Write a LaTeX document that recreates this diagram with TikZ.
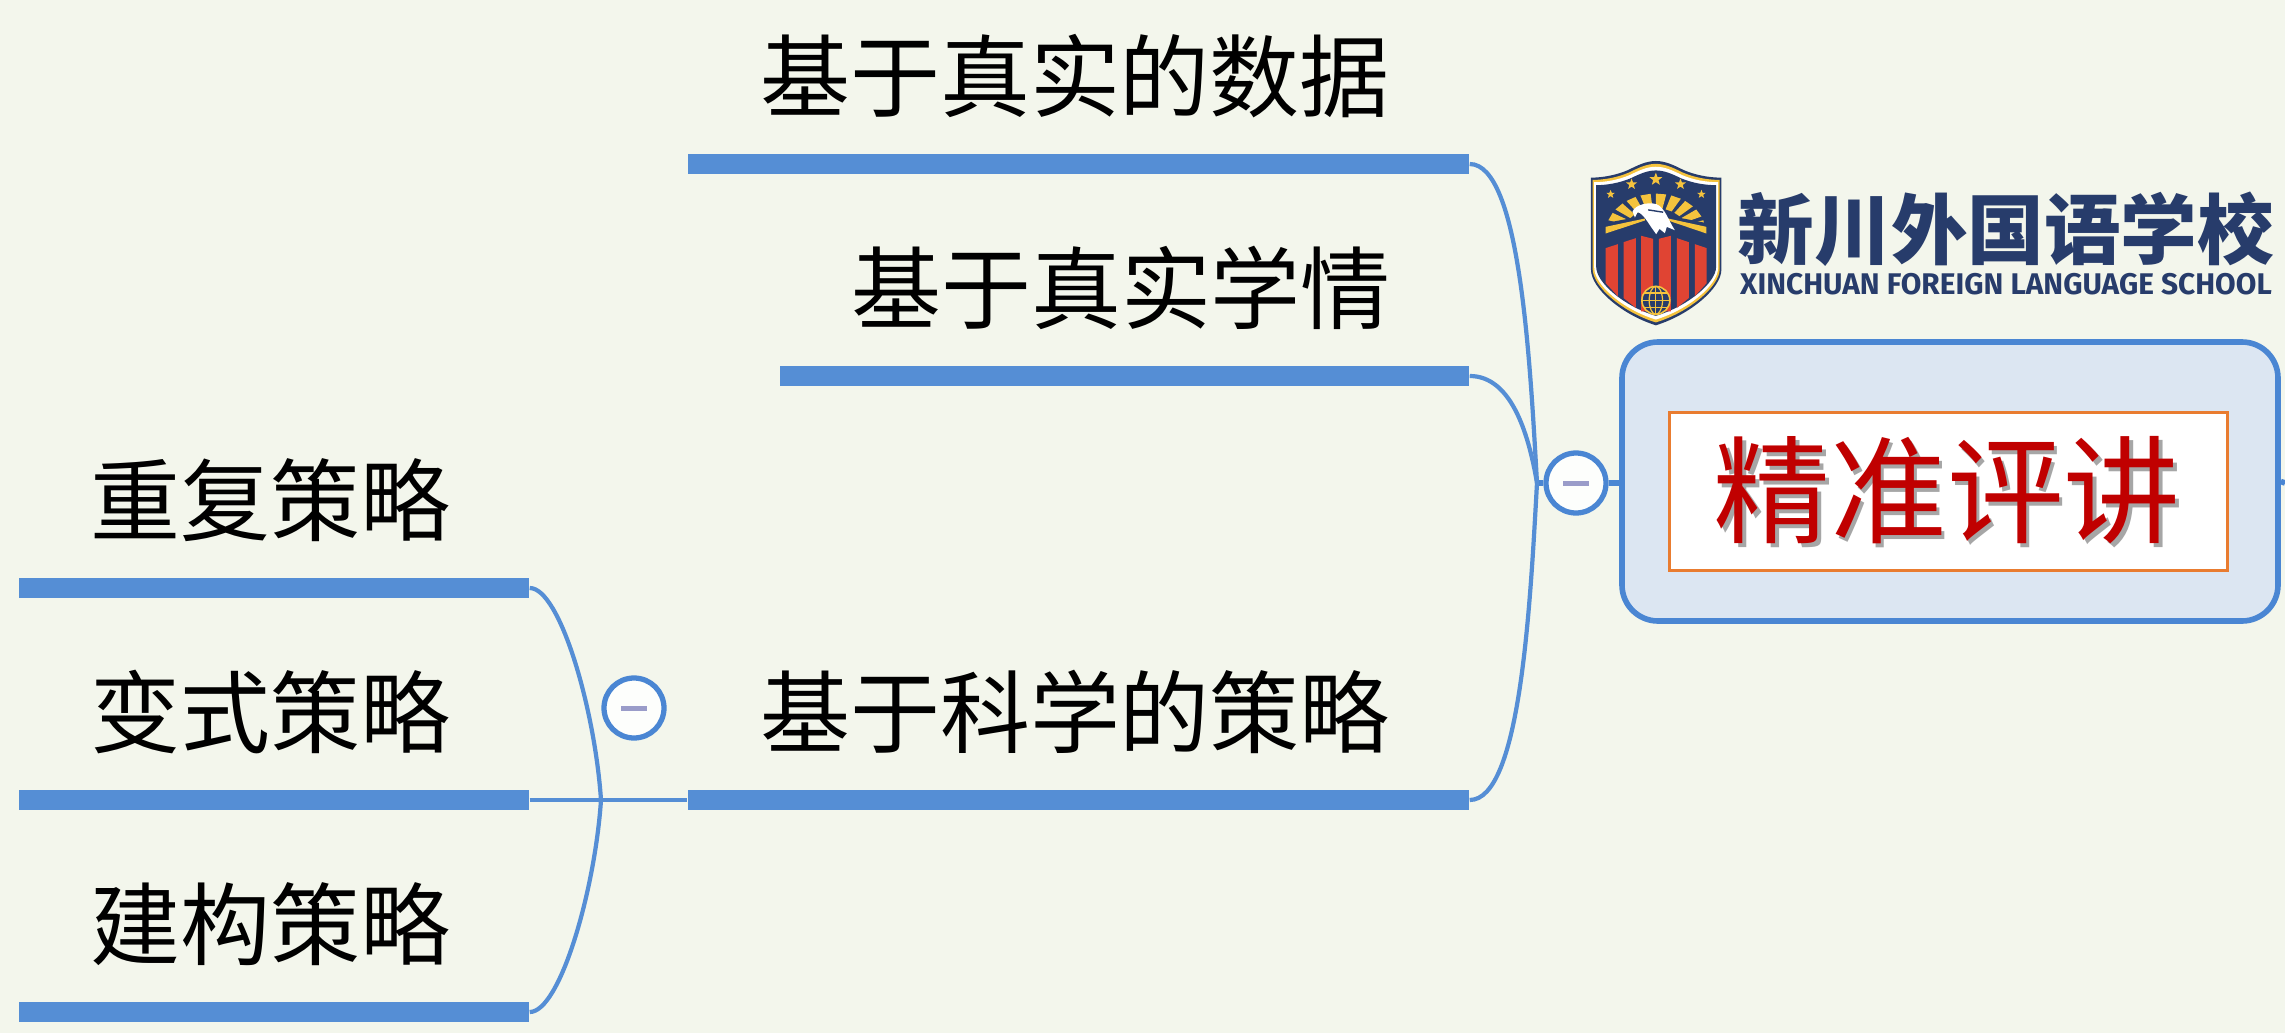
\documentclass[tikz,border=0pt]{standalone}
\usepackage{fontspec}
\usepackage{tikz}
\usetikzlibrary{positioning,shapes.geometric}
\newfontfamily\cjk{Noto Sans CJK SC}
\newfontfamily\latinlogo{Fira Sans}
\definecolor{paper}{HTML}{F3F6EC}
\definecolor{branch}{HTML}{558ED5}
\definecolor{rootline}{HTML}{4A86D3}
\definecolor{rootfill}{HTML}{DCE6F2}
\definecolor{minusline}{HTML}{9A9CC9}
\definecolor{navy}{HTML}{273C6B}
\definecolor{crestgold}{HTML}{F5C33D}
\definecolor{crestred}{HTML}{E04433}
\definecolor{framecol}{HTML}{E97C30}
\definecolor{titlered}{HTML}{C00000}
\def\crestpath{(213,18) .. controls (185,18) and (160,30) .. (130,45) .. controls (95,60) and (55,68) .. (18,68) -- (18,345) .. controls (18,400) and (110,480) .. (213,512) .. controls (316,480) and (410,400) .. (410,345) -- (410,68) .. controls (371,68) and (331,60) .. (296,45) .. controls (266,30) and (241,18) .. (213,18) -- cycle}
\begin{document}
\begin{tikzpicture}[auto,node distance=1.0cm]
	\tikzstyle{bar}=[fill=branch,minimum height=0.2cm,inner sep=0pt]
	\tikzstyle{leaf}=[font=\cjk\fontsize{25.6}{30}\selectfont,inner sep=0pt,xshift=-0.035cm]
	\tikzstyle{link}=[draw=branch,line width=1.2pt]
	\tikzstyle{fold}=[circle,draw=rootline,fill=white!85!paper,line width=1.5pt,minimum size=0.6cm,inner sep=0pt]
	\tikzstyle{minus}=[fill=minusline,minimum width=0.26cm,minimum height=0.05cm,inner sep=0pt]
	\useasboundingbox (0,0) rectangle (22.85,-10.33);
	\fill[paper] (0,0) rectangle (22.85,-10.33);
		% right part
		\node[bar, minimum width=7.81cm] (data) at (10.785,-1.64) {};
		\node[leaf, above=0.35cm of data] (datat) {基于真实的数据};
		\node[bar, minimum width=6.89cm] (study) at (11.245,-3.76) {};
		\node[leaf, above=0.35cm of study] (studyt) {基于真实学情};
		\node[bar, minimum width=7.81cm] (science) at (10.785,-8.00) {};
		\node[leaf, above=0.35cm of science] (sciencet) {基于科学的策略};
		% left part
		\node[bar, minimum width=5.10cm] (again) at (2.74,-5.88) {};
		\node[leaf, above=0.35cm of again] (againt) {重复策略};
		\node[bar, minimum width=5.10cm] (vary) at (2.74,-8.00) {};
		\node[leaf, above=0.35cm of vary] (varyt) {变式策略};
		\node[bar, minimum width=5.10cm] (build) at (2.74,-10.12) {};
		\node[leaf, above=0.35cm of build] (buildt) {建构策略};
		% root
		\node[draw=rootline, fill=rootfill, line width=1.6pt, rounded corners=0.36cm, minimum width=6.56cm, minimum height=2.79cm, inner sep=0pt] (root) at (19.50,-4.815) {};
		\node[draw=framecol, fill=white, line width=0.9pt, minimum width=5.58cm, minimum height=1.58cm, inner sep=0pt] (title) at (19.485,-4.915) {};
		\node[font=\cjk\fontsize{33.2}{36}\selectfont, text=titlered, inner sep=0pt] (titlet) at (19.47,-4.92) {\rlap{\kern1pt\raisebox{-1pt}{\textcolor{black!35}{精准评讲}}}精准评讲};
		\coordinate (rootend) at (22.85,-4.83);
			\draw[draw=rootline, line width=1.6pt] (root.east) -- (rootend);
		% fold marks
		\coordinate (hubr) at (15.37,-4.83);
		\coordinate (hubl) at (6.01,-8.00);
		\node[fold] (foldr) at (15.76,-4.83) {};
		\node[minus] (minusr) at (foldr) {};
		\node[fold] (foldl) at (6.34,-7.08) {};
		\node[minus] (minusl) at (foldl) {};
			\draw[draw=rootline, line width=1.6pt] (hubr) -- (foldr);
			\draw[draw=rootline, line width=1.6pt] (foldr) -- (root.west |- foldr);
			\draw[link] (data.east) .. controls (15.20,-1.64) and (15.30,-3.60) .. (hubr);
			\draw[link] (study.east) .. controls (15.10,-3.76) and (15.28,-4.30) .. (hubr);
			\draw[link] (science.east) .. controls (15.20,-8.00) and (15.30,-6.10) .. (hubr);
			\draw[link] (again.east) .. controls (5.60,-5.88) and (5.95,-7.10) .. (hubl);
			\draw[link] (build.east) .. controls (5.60,-10.12) and (5.95,-8.90) .. (hubl);
			\draw[link] (vary.east) -- (science.west);
		% crest
		\begin{scope}[shift={(15.85,-1.55)},x=0.003333cm,y=-0.003333cm]
			\fill[navy] \crestpath;
			\begin{scope}[shift={(213,265)},xscale=0.975,yscale=0.965,shift={(-213,-265)}]
				\fill[crestgold] \crestpath;
			\end{scope}
			\begin{scope}[shift={(213,265)},xscale=0.95,yscale=0.93,shift={(-213,-265)}]
				\fill[white] \crestpath;
			\end{scope}
			\begin{scope}[shift={(213,265)},xscale=0.92,yscale=0.885,shift={(-213,-265)}]
				\fill[navy] \crestpath;
			\end{scope}
			\begin{scope}[shift={(213,232)}]
				\foreach \a in {-12,-30,-48,-66,-84,-102,-120,-138,-156,-174}
					\fill[crestgold] (\a-6:150 and 116) -- (\a+6:150 and 116) -- (\a+6:95 and 72) -- (\a-6:95 and 72) -- cycle;
			\end{scope}
			\fill[navy] (55,206) -- (180,182) -- (250,182) -- (372,206) -- (372,240) -- (55,240) -- cycle;
			\fill[crestgold] (62,216) -- (180,191) -- (180,197) -- (62,236) -- cycle;
			\fill[crestgold] (365,216) -- (250,191) -- (250,197) -- (365,236) -- cycle;
			\fill[white] (143,170) .. controls (150,150) and (190,140) .. (215,148) .. controls (240,158) and (250,195) .. (270,226) -- (246,216) -- (240,235) -- (224,222) -- (214,238) -- (204,224) .. controls (190,205) and (175,175) .. (158,172) -- (150,188) -- cycle;
			\draw[navy, line width=0.4pt] (190,165) -- (235,172);
			\foreach \xa/\ya/\xb/\yb/\yc/\yd in {62/280/99/268/425/385,116/262/153/250/460/430,169/243/205/252/470/470,222/252/258/243/470/470,276/250/312/262/430/460,330/268/366/280/385/425}
				\fill[crestred] (\xa,\ya) -- (\xb,\yb) -- (\xb,\yc) -- (\xa,\yd) -- cycle;
			\foreach \i/\x/\y/\s in {1/213/73/0.135,2/140/88/0.115,3/287/88/0.115,4/77/118/0.09,5/350/118/0.09}
				\node[star, star points=5, star point ratio=2.4, fill=crestgold, minimum size=\s cm, inner sep=0pt] (star\i) at (\x,\y) {};
			\draw[crestgold, fill=navy, line width=0.45pt] (213,437) circle [radius=42];
			\draw[crestgold, line width=0.35pt] (213,395) -- (213,479) (171,437) -- (255,437) (178,415) -- (248,415) (178,459) -- (248,459);
			\draw[crestgold, line width=0.35pt] (213,437) circle [x radius=20, y radius=42];
		\end{scope}
		% school name
		\node[font=\cjk\bfseries\fontsize{21.8}{24}\selectfont, text=navy, inner sep=0pt] (school) at (20.06,-2.29) {新川外国语学校};
		\node[font=\latinlogo\bfseries\fontsize{8.5}{9}\selectfont, text=navy, inner sep=0pt] (schoolen) at (20.06,-2.84) {XINCHUAN FOREIGN LANGUAGE SCHOOL};
\end{tikzpicture}
\end{document}
